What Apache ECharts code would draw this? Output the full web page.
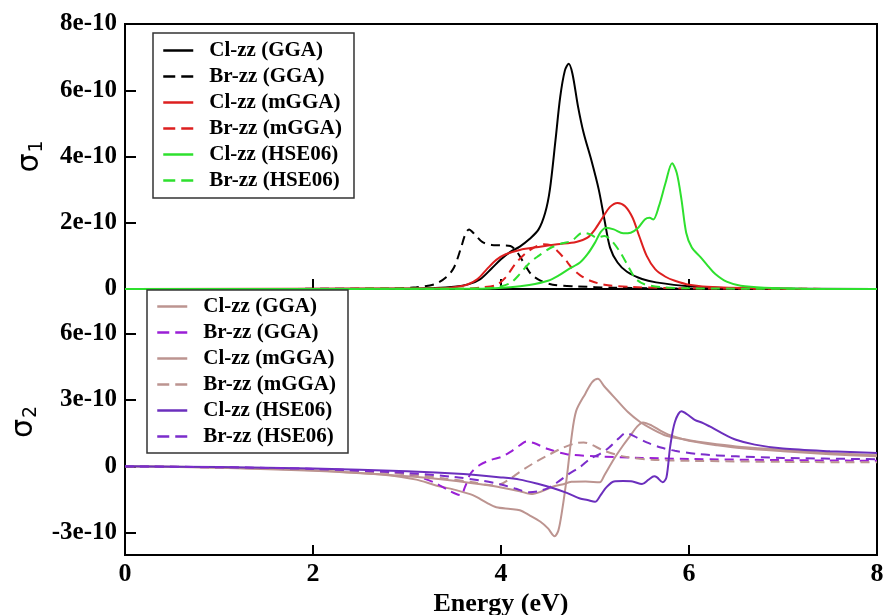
<!DOCTYPE html>
<html>
<head>
<meta charset="utf-8">
<script src="https://cdn.jsdelivr.net/npm/echarts@6/dist/echarts.min.js"></script>
<style>
  html, body { margin: 0; padding: 0; background: #fff; }
  #main { width: 887px; height: 615px; }
</style>
</head>
<body>
<div id="main"></div>
<script>
const myChart = echarts.init(document.querySelector('#main'))

// values in units of 1e-10, [energy (eV), value]
// sigma_1 panel
const clGGA1 = [[0,0],[3.0,0.01],[3.3,0.03],[3.5,0.07],[3.65,0.14],[3.78,0.3],[3.9,0.62],[4.0,0.9],[4.1,1.12],[4.2,1.28],[4.3,1.5],[4.4,1.8],[4.47,2.3],[4.52,3.0],[4.58,4.5],[4.63,5.8],[4.68,6.6],[4.72,6.8],[4.76,6.5],[4.82,5.5],[4.88,4.7],[4.96,3.9],[5.04,3.0],[5.1,2.1],[5.16,1.25],[5.24,0.8],[5.34,0.52],[5.5,0.3],[5.65,0.2],[6.0,0.08],[6.5,0.02],[8,0]]
const brGGA1 = [[0,0],[2.8,0.01],[3.1,0.05],[3.3,0.15],[3.42,0.36],[3.5,0.65],[3.57,1.2],[3.62,1.65],[3.66,1.8],[3.72,1.65],[3.8,1.42],[3.9,1.33],[4.0,1.32],[4.1,1.3],[4.17,1.12],[4.24,0.8],[4.32,0.45],[4.42,0.25],[4.55,0.13],[4.8,0.08],[5.2,0.04],[6.0,0.01],[8,0]]
const clMGGA1 = [[0,0],[3.3,0.02],[3.6,0.1],[3.75,0.3],[3.85,0.6],[3.95,0.88],[4.05,1.05],[4.2,1.18],[4.4,1.27],[4.6,1.35],[4.8,1.42],[4.92,1.55],[5.0,1.8],[5.08,2.15],[5.16,2.48],[5.24,2.6],[5.32,2.5],[5.4,2.15],[5.47,1.6],[5.55,1.0],[5.64,0.6],[5.75,0.37],[5.85,0.25],[6.0,0.13],[6.3,0.05],[7.0,0.01],[8,0]]
const brMGGA1 = [[0,0],[3.6,0.01],[3.8,0.05],[3.95,0.12],[4.05,0.35],[4.15,0.75],[4.25,1.05],[4.35,1.25],[4.45,1.35],[4.52,1.33],[4.6,1.15],[4.68,0.9],[4.76,0.62],[4.84,0.42],[4.95,0.25],[5.1,0.13],[5.4,0.06],[6.0,0.02],[8,0]]
const clHSE1 = [[0,0],[3.8,0.01],[4.1,0.05],[4.3,0.12],[4.5,0.25],[4.62,0.42],[4.72,0.6],[4.84,0.8],[4.92,1.05],[5.0,1.4],[5.06,1.72],[5.12,1.85],[5.2,1.8],[5.3,1.68],[5.38,1.7],[5.46,1.85],[5.53,2.1],[5.58,2.15],[5.62,2.1],[5.68,2.5],[5.75,3.2],[5.82,3.8],[5.87,3.5],[5.92,2.7],[5.97,1.7],[6.03,1.25],[6.12,0.97],[6.2,0.7],[6.28,0.45],[6.4,0.22],[6.55,0.1],[6.8,0.04],[7.2,0.01],[8,0]]
const brHSE1 = [[0,0],[3.7,0.01],[3.95,0.05],[4.1,0.18],[4.2,0.45],[4.3,0.78],[4.4,1.0],[4.52,1.23],[4.65,1.38],[4.75,1.45],[4.87,1.7],[4.95,1.65],[5.02,1.55],[5.1,1.6],[5.18,1.45],[5.27,1.1],[5.35,0.7],[5.43,0.32],[5.52,0.15],[5.7,0.06],[6.0,0.02],[8,0]]

// sigma_2 panel
const clGGA2 = [[0,0],[1,-0.06],[2,-0.2],[2.8,-0.4],[3.1,-0.6],[3.3,-0.85],[3.5,-1.05],[3.7,-1.3],[3.85,-1.65],[3.95,-1.85],[4.1,-1.92],[4.2,-1.98],[4.3,-2.2],[4.42,-2.5],[4.5,-2.8],[4.57,-3.15],[4.61,-2.9],[4.65,-2.0],[4.7,-0.5],[4.75,1.3],[4.8,2.5],[4.9,3.3],[4.97,3.8],[5.03,3.95],[5.1,3.6],[5.23,3.0],[5.35,2.45],[5.48,2.0],[5.6,1.7],[5.76,1.38],[6.0,1.18],[6.2,1.05],[6.5,0.9],[7.0,0.75],[7.5,0.6],[8,0.5]]
const brGGA2 = [[0,0],[1,-0.05],[2,-0.12],[2.8,-0.25],[3.1,-0.45],[3.3,-0.75],[3.45,-1.1],[3.57,-1.3],[3.62,-0.9],[3.68,-0.3],[3.78,0.08],[3.9,0.3],[4.0,0.42],[4.1,0.65],[4.2,0.95],[4.27,1.12],[4.35,1.05],[4.5,0.78],[4.7,0.55],[5.0,0.45],[5.5,0.38],[6.0,0.33],[7.0,0.28],[8,0.25]]
const clMGGA2 = [[0,0],[1,-0.05],[2,-0.18],[3,-0.45],[3.5,-0.65],[3.8,-0.82],[4.0,-0.95],[4.2,-1.12],[4.32,-1.25],[4.42,-1.15],[4.55,-0.92],[4.65,-0.82],[4.75,-0.7],[4.9,-0.68],[5.05,-0.72],[5.1,-0.4],[5.2,0.32],[5.3,0.95],[5.37,1.35],[5.45,1.8],[5.51,1.98],[5.6,1.85],[5.7,1.6],[5.8,1.4],[6.0,1.15],[6.3,0.95],[6.6,0.8],[7.0,0.68],[7.5,0.55],[8,0.45]]
const brMGGA2 = [[0,0],[1,-0.05],[2,-0.15],[3,-0.35],[3.4,-0.55],[3.7,-0.72],[3.9,-0.85],[4.0,-0.8],[4.1,-0.55],[4.2,-0.25],[4.35,0.15],[4.5,0.5],[4.65,0.82],[4.8,1.05],[4.88,1.08],[4.95,1.0],[5.1,0.7],[5.3,0.45],[5.6,0.3],[6.0,0.25],[7.0,0.2],[8,0.18]]
const clHSE2 = [[0,0],[1,-0.03],[2,-0.1],[3,-0.22],[3.6,-0.35],[4.0,-0.5],[4.2,-0.6],[4.4,-0.8],[4.55,-0.98],[4.7,-1.2],[4.84,-1.45],[4.92,-1.52],[5.0,-1.6],[5.06,-1.3],[5.12,-0.95],[5.2,-0.68],[5.3,-0.66],[5.4,-0.68],[5.5,-0.8],[5.57,-0.6],[5.63,-0.45],[5.66,-0.5],[5.72,-0.72],[5.76,-0.5],[5.8,0.9],[5.85,2.0],[5.92,2.48],[5.98,2.35],[6.06,2.1],[6.15,1.95],[6.22,1.8],[6.35,1.5],[6.5,1.2],[6.7,0.98],[7.0,0.8],[7.5,0.68],[8,0.6]]
const brHSE2 = [[0,0],[1,-0.04],[2,-0.12],[3,-0.3],[3.5,-0.48],[3.8,-0.65],[4.0,-0.82],[4.15,-1.0],[4.3,-1.17],[4.4,-1.12],[4.5,-0.98],[4.6,-0.72],[4.72,-0.35],[4.85,0.0],[4.95,0.35],[5.05,0.55],[5.15,0.85],[5.25,1.25],[5.33,1.5],[5.42,1.35],[5.55,1.08],[5.7,0.85],[5.85,0.7],[6.1,0.55],[6.5,0.45],[7.0,0.38],[8,0.32]]

const topNames = ['Cl-zz (GGA)', 'Br-zz (GGA)', 'Cl-zz (mGGA)', 'Br-zz (mGGA)', 'Cl-zz (HSE06)', 'Br-zz (HSE06)']
// trailing space keeps the lower legend apart from the upper one
const bottomNames = topNames.map(n => n + ' ')
const sigma2Ticks = [-3, 0, 3, 6]

const serif = '"Liberation Serif", "DejaVu Serif", serif'

function line(name, data, color, dashed, panel) {
  return {
    name: name,
    type: 'line',
    xAxisIndex: panel,
    yAxisIndex: panel,
    data: data,
    symbol: 'none',
    smooth: 0.3,
    lineStyle: { color: color, width: 2, type: dashed ? [9, 6] : 'solid' },
    itemStyle: { color: color },
    animation: false
  }
}

function xAxis(panel, showLabel) {
  return {
    type: 'value',
    gridIndex: panel,
    min: 0, max: 8, interval: 2,
    axisLine: { show: true, onZero: false, lineStyle: { color: '#000', width: 2 } },
    axisTick: { show: true, inside: true, length: 10, lineStyle: { color: '#000', width: 2 } },
    splitLine: { show: false },
    axisLabel: {
      show: showLabel, color: '#000', fontFamily: serif, fontWeight: 'bold', fontSize: 26, margin: 6
    },
    name: showLabel ? 'Energy (eV)' : '',
    nameLocation: 'middle',
    nameGap: 36,
    nameTextStyle: { color: '#000', fontFamily: serif, fontWeight: 'bold', fontSize: 26 }
  }
}

const fmt = v => v === 0 ? '0' : v + 'e-10'

const sigmaRich = {
  s: { fontFamily: '"DejaVu Sans", sans-serif', fontSize: 30, color: '#000', lineHeight: 34 },
  sub: { fontFamily: '"DejaVu Sans", sans-serif', fontSize: 19, color: '#000', lineHeight: 34, padding: [14, 0, 0, 1] }
}

function legendItems(names, dashes) {
  return names.map((n, i) => ({
    name: n,
    lineStyle: { width: 2.5, type: dashes[i] ? [12, 6] : 'solid' }
  }))
}
const dashFlags = [false, true, false, true, false, true]

const legendBase = {
  orient: 'vertical',
  itemWidth: 30,
  itemHeight: 14,
  itemGap: 5,
  borderColor: '#333',
  borderWidth: 1.5,
  backgroundColor: '#fff',
  itemStyle: { opacity: 0 },
  textStyle: { color: '#000', fontFamily: serif, fontWeight: 'bold', fontSize: 21, padding: [0, 0, 0, 11] },
  formatter: n => n.trim()
}

const option = {
  backgroundColor: '#fff',
  animation: false,
  grid: [
    { left: 125, top: 24, width: 752, height: 265, show: true, borderColor: '#000', borderWidth: 2, outerBoundsMode: 'none', containLabel: false },
    { left: 125, top: 289, width: 752, height: 266, show: true, borderColor: '#000', borderWidth: 2, outerBoundsMode: 'none', containLabel: false }
  ],
  xAxis: [xAxis(0, false), xAxis(1, true)],
  yAxis: [
    {
      type: 'value', gridIndex: 0, min: 0, max: 8, interval: 2,
      axisLine: { show: true, onZero: false, lineStyle: { color: '#000', width: 2 } },
      axisTick: { inside: true, length: 11, lineStyle: { color: '#000', width: 2 } },
      splitLine: { show: false },
      axisLabel: { color: '#000', fontFamily: serif, fontWeight: 'bold', fontSize: 25, margin: 8, formatter: fmt },
      name: '{s|σ}{sub|1}',
      nameLocation: 'middle',
      nameGap: 78,
      nameTextStyle: { color: '#000', rich: sigmaRich }
    },
    {
      type: 'value', gridIndex: 1, min: -4, max: 8,
      axisLine: { show: true, onZero: false, lineStyle: { color: '#000', width: 2 } },
      axisTick: { inside: true, length: 11, customValues: sigma2Ticks, lineStyle: { color: '#000', width: 2 } },
      splitLine: { show: false },
      axisLabel: { color: '#000', fontFamily: serif, fontWeight: 'bold', fontSize: 25, margin: 8, customValues: sigma2Ticks, formatter: fmt },
      name: '{s|σ}{sub|2}',
      nameLocation: 'middle',
      nameGap: 78,
      nameTextStyle: { color: '#000', rich: sigmaRich }
    }
  ],
  legend: [
    Object.assign({}, legendBase, { data: legendItems(topNames, dashFlags), left: 153, top: 33, padding: [7, 12, 7, 9] }),
    Object.assign({}, legendBase, { data: legendItems(bottomNames, dashFlags), left: 147, top: 290, padding: [6, 12, 6, 9] })
  ],
  series: [
    line(topNames[0], clGGA1, '#000000', false, 0),
    line(topNames[1], brGGA1, '#000000', true, 0),
    line(topNames[2], clMGGA1, '#dd1f1f', false, 0),
    line(topNames[3], brMGGA1, '#dd1f1f', true, 0),
    line(topNames[4], clHSE1, '#2ee02e', false, 0),
    line(topNames[5], brHSE1, '#2ee02e', true, 0),
    line(bottomNames[0], clGGA2, '#bc9490', false, 1),
    line(bottomNames[1], brGGA2, '#9a1fd6', true, 1),
    line(bottomNames[2], clMGGA2, '#bc9490', false, 1),
    line(bottomNames[3], brMGGA2, '#bc9490', true, 1),
    line(bottomNames[4], clHSE2, '#6b2fbd', false, 1),
    line(bottomNames[5], brHSE2, '#7b2dcb', true, 1)
  ]
}

option && myChart.setOption(option)
</script>
</body>
</html>
